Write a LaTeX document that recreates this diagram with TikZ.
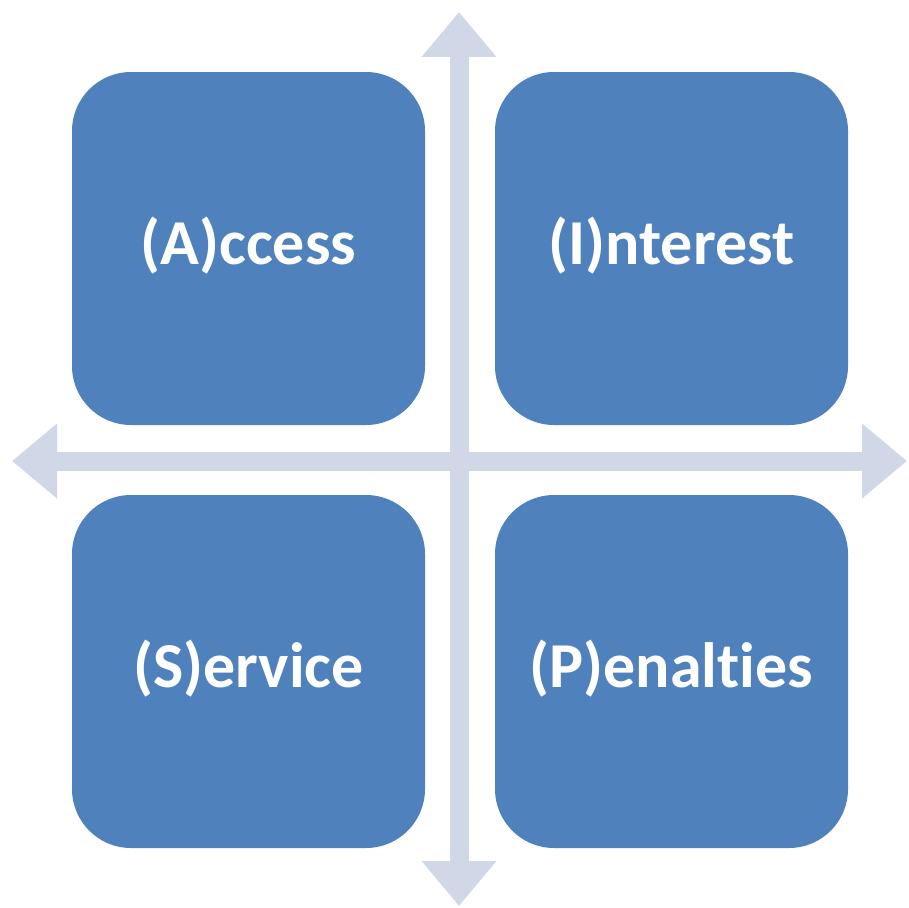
\documentclass[tikz,border=0pt]{standalone}
\usepackage{fontspec}
\setmainfont{Carlito}[Ligatures={NoCommon}]
\usetikzlibrary{arrows.meta}
\definecolor{boxblue}{HTML}{4F81BD}
\definecolor{axisgray}{HTML}{D0D8E8}
\tikzset{
  quad/.style={rectangle, rounded corners=59pt, fill=boxblue, draw=none,
    minimum width=353pt, minimum height=353pt, inner sep=0pt,
    text=white, font=\fontsize{64}{64}\selectfont\bfseries,
    text height=41pt, text depth=9pt},
  axis/.style={draw=axisgray, line width=19pt,
    {Triangle[width=72pt,length=45pt]}-{Triangle[width=72pt,length=45pt]}}
}
\begin{document}
\begin{tikzpicture}[x=1pt,y=-1pt]
\useasboundingbox (0,0) rectangle (909,907);
\coordinate (top) at (459,12);
\coordinate (bottom) at (459,906);
\coordinate (left) at (12,461);
\coordinate (right) at (907,461);
\draw[axis] (top) -- (bottom);
\draw[axis] (left) -- (right);
\node[quad] (access) at (248.5,248.5) {(A)ccess};
\node[quad] (interest) at (671.5,248.5) {(I)nterest};
\node[quad] (service) at (248.5,671.5) {(S)ervice};
\node[quad] (penalties) at (671.5,671.5) {(P)enalties};
\end{tikzpicture}
\end{document}
